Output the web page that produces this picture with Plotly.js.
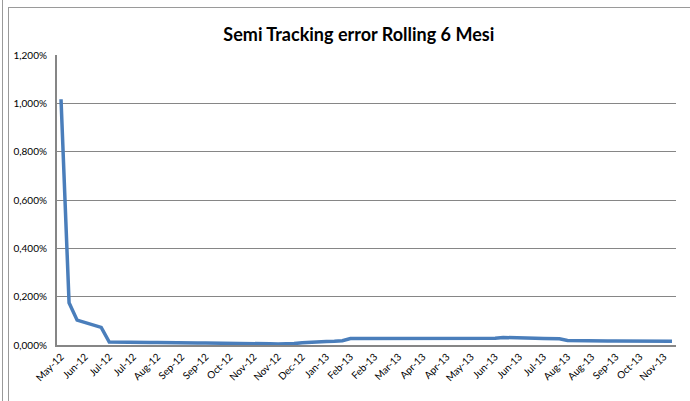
<!DOCTYPE html>
<html>
<head>
<meta charset="utf-8">
<script src="https://cdn.plot.ly/plotly-3.0.1.min.js"></script>
<style>
  html, body { margin: 0; padding: 0; background: #fff; }
  #wrap { position: relative; width: 690px; height: 401px; overflow: hidden; }
  #chart { position: absolute; left: 0; top: 0; width: 690px; height: 401px; }
  .edge { position: absolute; background: #9a9a9a; }
</style>
</head>
<body>
<div id="wrap">
  <div id="chart"></div>
  <div class="edge" style="left:2px;top:0;width:1px;height:401px"></div>
  <div class="edge" style="left:8px;top:7px;width:1px;height:394px"></div>
  <div class="edge" style="left:8px;top:7px;width:682px;height:1px"></div>
</div>
<script>
// ─────────────────────────────
// DATOS
// ─────────────────────────────
const tickLabels = [
  'May-12', 'Jun-12', 'Jul-12', 'Jul-12', 'Aug-12', 'Sep-12', 'Sep-12', 'Oct-12',
  'Nov-12', 'Nov-12', 'Dec-12', 'Jan-13', 'Feb-13', 'Feb-13', 'Mar-13', 'Apr-13',
  'Apr-13', 'May-13', 'Jun-13', 'Jun-13', 'Jul-13', 'Aug-13', 'Aug-13', 'Sep-13',
  'Oct-13', 'Nov-13'
];

// semi tracking error rolling 6 mesi, in %
const trackingError = [
  1.017, 0.175, 0.103, 0.092, 0.082, 0.073, 0.012, 0.011, 0.011, 0.011,
  0.010, 0.010, 0.010, 0.009, 0.009, 0.009, 0.009, 0.008, 0.008, 0.008,
  0.008, 0.008, 0.008, 0.007, 0.007, 0.006, 0.005, 0.004, 0.004, 0.006,
  0.009, 0.012, 0.015, 0.015, 0.016, 0.018, 0.027, 0.027, 0.027, 0.027,
  0.027, 0.027, 0.027, 0.027, 0.027, 0.028, 0.028, 0.028, 0.027, 0.027,
  0.027, 0.027, 0.027, 0.027, 0.028, 0.031, 0.031, 0.030, 0.029, 0.028,
  0.027, 0.027, 0.026, 0.019, 0.018, 0.018, 0.018, 0.018, 0.017, 0.017,
  0.017, 0.016, 0.015, 0.015, 0.015, 0.015, 0.016
];

const yTicks = [0, 0.2, 0.4, 0.6, 0.8, 1.0, 1.2];
const labelStep = 3;

// ─────────────────────────────
// GRAFICO
// ─────────────────────────────
const xIdx = trackingError.map((_, i) => i);
const tickVals = tickLabels.map((_, k) => k * labelStep);
const yTickText = yTicks.map(v => v.toFixed(3).replace('.', ',') + '%');

const trace = {
  x: xIdx,
  y: trackingError,
  type: 'scatter',
  mode: 'lines',
  line: { color: '#4a7ebb', width: 3.5 },
  hoverinfo: 'skip'
};

const font = 'Lato, "Open Sans", sans-serif';

const layout = {
  width: 690,
  height: 401,
  margin: { l: 57, r: 14, t: 55, b: 56 },
  paper_bgcolor: 'rgba(0,0,0,0)',
  plot_bgcolor: '#fff',
  showlegend: false,
  font: { family: font, size: 10, color: '#000' },
  title: {
    text: '<b>Semi Tracking error Rolling 6 Mesi</b>',
    font: { family: font, size: 18, color: '#000' },
    xref: 'container', x: 0.52, xanchor: 'center',
    yref: 'container', y: 0.913, yanchor: 'middle'
  },
  xaxis: {
    range: [-0.5, trackingError.length - 0.5],
    tickmode: 'array',
    tickvals: tickVals,
    ticktext: tickLabels,
    tickangle: -45,
    ticks: '',
    showgrid: false,
    zeroline: false,
    showline: true,
    linecolor: '#868686',
    linewidth: 2,
    tickfont: { family: font, size: 10 }
  },
  yaxis: {
    range: [0, 1.2],
    tickmode: 'array',
    tickvals: yTicks,
    ticktext: yTickText,
    ticks: '',
    ticklabelstandoff: 6,
    showgrid: true,
    gridcolor: '#868686',
    gridwidth: 1,
    zeroline: false,
    showline: true,
    linecolor: '#868686',
    linewidth: 2,
    tickfont: { family: font, size: 10 }
  }
};

Plotly.newPlot('chart', [trace], layout, { staticPlot: true });
</script>
</body>
</html>
